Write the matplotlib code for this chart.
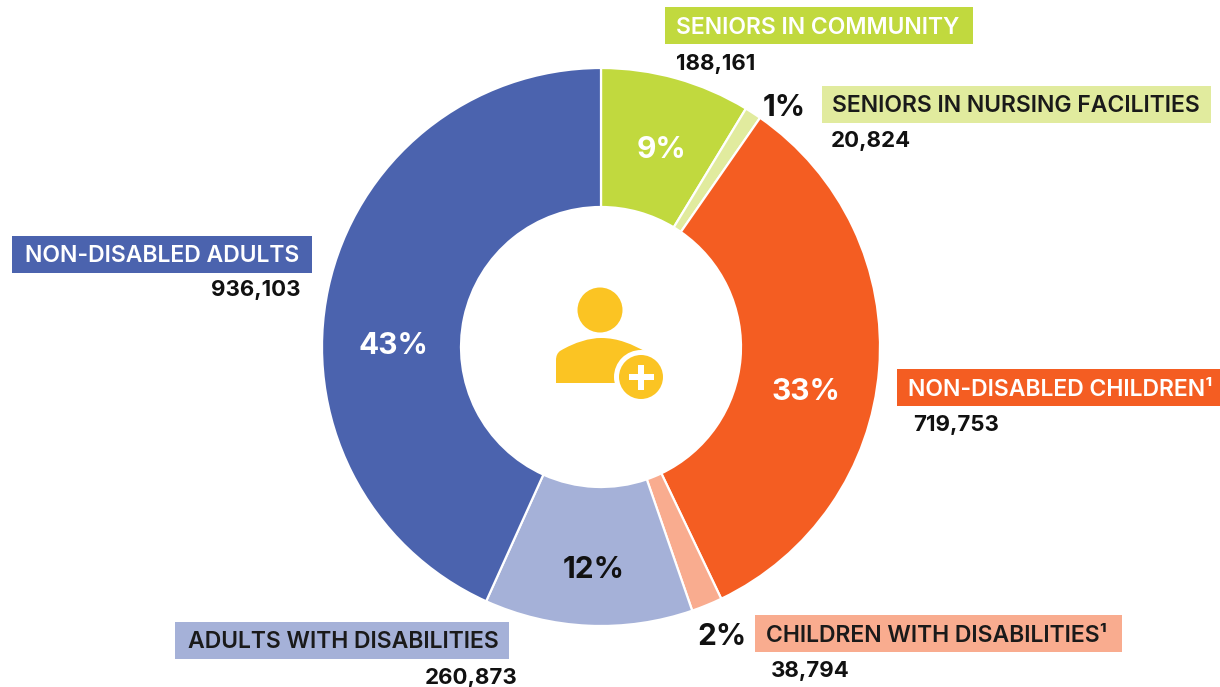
import matplotlib
matplotlib.use("Agg")
import matplotlib.pyplot as plt
from matplotlib.patches import Circle, PathPatch, Rectangle
from matplotlib.path import Path

W, H = 1220, 687

groups = ["SENIORS IN COMMUNITY", "SENIORS IN NURSING FACILITIES", "NON-DISABLED CHILDREN¹",
          "CHILDREN WITH DISABILITIES¹", "ADULTS WITH DISABILITIES", "NON-DISABLED ADULTS"]
enrollment = [188161, 20824, 719753, 38794, 260873, 936103]
shares = ["9%", "1%", "33%", "2%", "12%", "43%"]
colors = ["#C1D93E", "#E1EB9E", "#F45D22", "#F9AC8F", "#A5B1D8", "#4B63AE"]

DARK = "#1A1A1A"
FONT = "Inter"
CX, CY, R_OUT, R_IN = 601, 347, 279, 140


def py(y):
    return H - y


fig = plt.figure(figsize=(W / 100, H / 100), dpi=100)
ax = fig.add_axes([0, 0, 1, 1])

ax.pie(enrollment, colors=colors, startangle=90, counterclock=False,
       center=(CX, py(CY)), radius=R_OUT,
       wedgeprops=dict(width=R_OUT - R_IN, edgecolor="white", linewidth=1.6))
ax.set_xlim(0, W)
ax.set_ylim(0, H)
ax.set_aspect("equal")
ax.axis("off")

# Category boxes: left, right, top, bottom, text x, text colour
boxes = [
    (665, 973, 7, 44, 676, "white"),
    (822, 1211, 86, 123, 832, DARK),
    (897, 1220, 369, 406, 908, "white"),
    (755, 1122, 615, 652, 766, DARK),
    (175, 509, 622, 659, 188, DARK),
    (12, 312, 236, 273, 25, "white"),
]
for name, color, (x0, x1, y0, y1, tx, tc) in zip(groups, colors, boxes):
    ax.add_patch(Rectangle((x0, py(y1)), x1 - x0, y1 - y0, facecolor=color, edgecolor="none", zorder=3))
    ax.text(tx, py((y0 + y1) / 2 - 0.5), name, color=tc, fontsize=16.55, fontweight=600,
            family=FONT, ha="left", va="center_baseline", zorder=4)

# Enrollment counts
count_pos = [(676, 62, "left"), (831, 139, "left"), (913, 423, "left"),
             (771, 669, "left"), (518, 676, "right"), (301, 288, "right")]
for value, (x, y, ha) in zip(enrollment, count_pos):
    ax.text(x, py(y), f"{value:,}", color="#111111", fontsize=16, fontweight=700,
            family=FONT, ha=ha, va="center_baseline", zorder=4)

# Percent shares
share_pos = [(662, 147, "white"), (784, 105, "#111111"), (805.5, 389, "white"),
             (722, 634, "#111111"), (593.5, 567, "#111111"), (393.5, 343, "white")]
for share, (x, y, c) in zip(shares, share_pos):
    ax.text(x, py(y), share, color=c, fontsize=21.5, fontweight=700,
            family=FONT, ha="center", va="center_baseline", zorder=4)

# Person-with-plus icon in the centre of the ring
GOLD = "#FBC423"
ax.add_patch(Circle((600, py(310)), 22.5, facecolor=GOLD, edgecolor="none", zorder=5))
body = Path(
    [(556, py(383)), (556, py(360)), (556, py(354)), (560, py(351)),
     (575, py(342)), (590, py(338)), (601, py(338)),
     (618, py(338)), (632, py(344)), (648, py(353)),
     (648, py(383)), (556, py(383))],
    [Path.MOVETO, Path.LINETO, Path.CURVE3, Path.CURVE3,
     Path.CURVE4, Path.CURVE4, Path.CURVE4,
     Path.CURVE4, Path.CURVE4, Path.CURVE4,
     Path.LINETO, Path.CLOSEPOLY],
)
ax.add_patch(PathPatch(body, facecolor=GOLD, edgecolor="none", zorder=5))
ax.add_patch(Circle((641, py(377)), 27, facecolor="white", edgecolor="none", zorder=6))
ax.add_patch(Circle((641, py(377)), 22, facecolor=GOLD, edgecolor="none", zorder=7))
ax.add_patch(Rectangle((628.5, py(380)), 25, 6, facecolor="white", edgecolor="none", zorder=8))
ax.add_patch(Rectangle((638, py(389.5)), 6, 25, facecolor="white", edgecolor="none", zorder=8))

fig.savefig("out.png", dpi=100, facecolor="white")
